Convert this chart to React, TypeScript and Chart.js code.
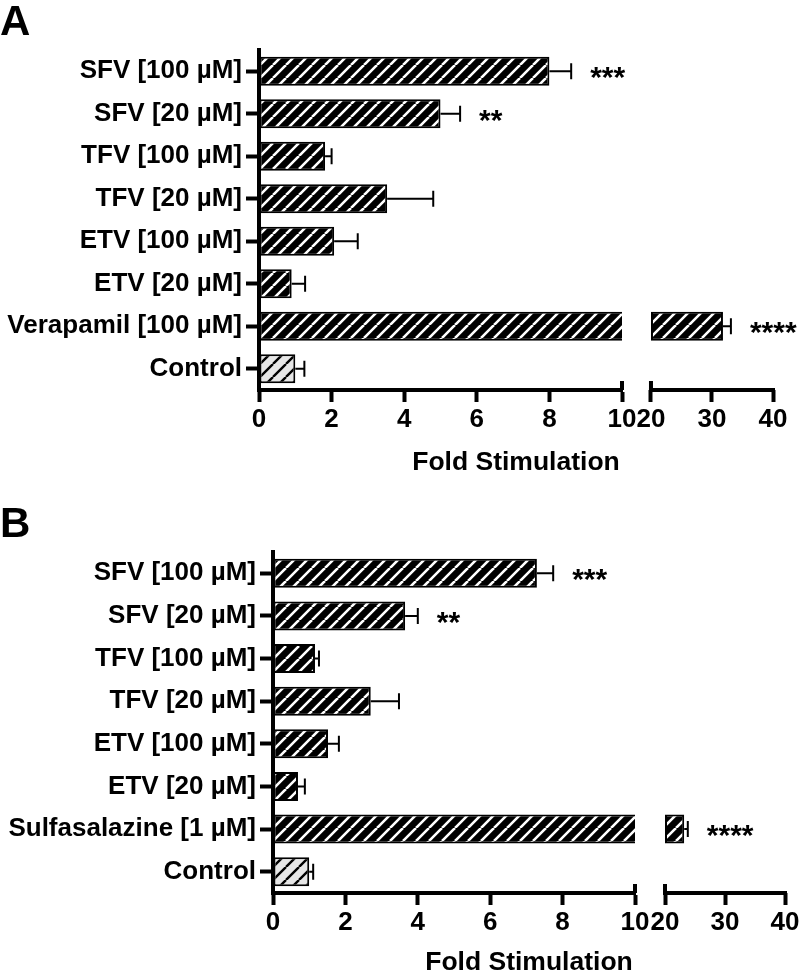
import React, { useEffect, useRef } from 'react';
import { Chart, registerables } from 'chart.js';

Chart.register(...registerables);

// ---------- data ----------
const categoriesA = ['SFV [100 µM]', 'SFV [20 µM]', 'TFV [100 µM]', 'TFV [20 µM]', 'ETV [100 µM]', 'ETV [20 µM]', 'Verapamil [100 µM]', 'Control'];
const valuesA = [8.0, 5.0, 1.82, 3.53, 2.07, 0.9, 31.8, 1.0];
const errorsA = [0.6, 0.54, 0.18, 1.27, 0.65, 0.37, 1.3, 0.25];
const sigA = ['***', '**', '', '', '', '', '****', ''];

const categoriesB = ['SFV [100 µM]', 'SFV [20 µM]', 'TFV [100 µM]', 'TFV [20 µM]', 'ETV [100 µM]', 'ETV [20 µM]', 'Sulfasalazine [1 µM]', 'Control'];
const valuesB = [7.29, 3.65, 1.16, 2.7, 1.52, 0.69, 23.2, 1.0];
const errorsB = [0.45, 0.35, 0.11, 0.78, 0.3, 0.19, 0.6, 0.11];
const sigB = ['***', '**', '', '', '', '', '****', ''];

const lowTicks = [0, 2, 4, 6, 8, 10];
const highTicks = [20, 30, 40];
const axisTitle = 'Fold Stimulation';

const FONT = "'Liberation Sans', Arial, Helvetica, sans-serif";

function makeHatch(bg: string, fg: string, lw: number, size = 13): CanvasPattern {
  const c = document.createElement('canvas');
  c.width = size;
  c.height = size;
  const g = c.getContext('2d')!;
  g.fillStyle = bg;
  g.fillRect(0, 0, size, size);
  g.strokeStyle = fg;
  g.lineWidth = lw;
  g.beginPath();
  for (const o of [-size, 0, size]) {
    g.moveTo(o, size);
    g.lineTo(o + size, 0);
  }
  g.stroke();
  return g.createPattern(c, 'repeat')!;
}

type PanelProps = {
  letter: string;
  categories: string[];
  values: number[];
  errors: number[];
  sig: string[];
  width: number;
  height: number;
  top: number;
  padTop: number;
  padRight: number;
  yWidth: number;
  axisHeight: number;
  lowWeight: number;
  highWeight: number;
  highMin: number;
  letterBaseline: number;
  titleOffset: number;
};

function Panel(p: PanelProps) {
  const ref = useRef<HTMLCanvasElement | null>(null);

  useEffect(() => {
    const canvas = ref.current!;
    const lowMax = lowTicks[lowTicks.length - 1];
    const highStart = highTicks[0];
    const dark = makeHatch('#000000', '#ffffff', 2.6);
    const light = makeHatch('#e6e6e6', '#000000', 2.4);
    const fills = p.categories.map((c) => (c === 'Control' ? light : dark));

    const overlay = {
      id: 'overlay',
      afterDraw(chart: any) {
        const ctx = chart.ctx as CanvasRenderingContext2D;
        const x1 = chart.scales.x1;
        const x2 = chart.scales.x2;
        const y = chart.scales.y;
        const { bottom, left, right } = chart.chartArea;
        ctx.save();
        ctx.strokeStyle = '#000';
        ctx.fillStyle = '#000';
        ctx.lineCap = 'butt';
        // second axis segment
        ctx.lineWidth = 4;
        const p20 = x2.getPixelForValue(highStart);
        const p10 = x1.getPixelForValue(lowMax);
        ctx.beginPath();
        ctx.moveTo(p20 - 2, bottom);
        ctx.lineTo(x2.right + 2, bottom);
        ctx.stroke();
        // break caps extending above axis
        ctx.beginPath();
        ctx.moveTo(p10, bottom - 9);
        ctx.lineTo(p10, bottom);
        ctx.moveTo(p20, bottom - 9);
        ctx.lineTo(p20, bottom);
        ctx.stroke();
        // error bars + significance
        ctx.lineWidth = 2;
        p.values.forEach((v, i) => {
          const e = p.errors[i];
          const sc = v > lowMax ? x2 : x1;
          const yc = y.getPixelForValue(i);
          const a = sc.getPixelForValue(v);
          const b = sc.getPixelForValue(v + e);
          ctx.beginPath();
          ctx.moveTo(a, yc);
          ctx.lineTo(b, yc);
          ctx.moveTo(b, yc - 8);
          ctx.lineTo(b, yc + 8);
          ctx.stroke();
          if (p.sig[i]) {
            ctx.font = `bold 30px ${FONT}`;
            ctx.textAlign = 'left';
            ctx.textBaseline = 'alphabetic';
            ctx.fillText(p.sig[i], b + 19, yc + 16);
          }
        });
        // axis title
        ctx.font = `bold 26.5px ${FONT}`;
        ctx.textAlign = 'center';
        ctx.textBaseline = 'middle';
        ctx.fillText(axisTitle, (left + right) / 2, bottom + p.titleOffset);
        // panel letter
        ctx.font = `bold 42px ${FONT}`;
        ctx.textAlign = 'left';
        ctx.textBaseline = 'alphabetic';
        ctx.fillText(p.letter, 0, p.letterBaseline);
        ctx.restore();
      },
    };

    const tickFont = { family: FONT, size: 26, weight: 'bold' as const };

    const chart = new Chart(canvas, {
      type: 'bar',
      data: {
        labels: p.categories,
        datasets: [
          {
            data: p.values,
            xAxisID: 'x1',
            yAxisID: 'y',
            backgroundColor: fills,
            borderColor: '#000',
            borderWidth: 2,
            borderSkipped: false,
            grouped: false,
            barPercentage: 0.68,
            categoryPercentage: 1,
          } as any,
          {
            data: p.values.map((v) => (v > lowMax ? [highStart, v] : null)),
            xAxisID: 'x2',
            yAxisID: 'y',
            backgroundColor: fills,
            borderColor: '#000',
            borderWidth: 2,
            borderSkipped: false,
            grouped: false,
            barPercentage: 0.68,
            categoryPercentage: 1,
          } as any,
        ],
      },
      options: {
        indexAxis: 'y',
        animation: false,
        responsive: false,
        maintainAspectRatio: false,
        devicePixelRatio: 1,
        layout: { padding: { left: 0, top: p.padTop, right: p.padRight, bottom: 0 } },
        plugins: { legend: { display: false }, tooltip: { enabled: false }, title: { display: false } },
        scales: {
          y: {
            type: 'category',
            position: 'left',
            offset: true,
            grid: { display: true, drawOnChartArea: false, drawTicks: true, tickLength: 13, tickWidth: 4, tickColor: '#000', offset: false },
            border: { display: true, color: '#000', width: 4 },
            ticks: { color: '#000', font: { family: FONT, size: 26, weight: 'bold' }, padding: 4, autoSkip: false },
            afterFit: (s: any) => {
              s.width = p.yWidth;
              s.paddingTop = 0;
              s.paddingBottom = 0;
            },
          },
          x1: {
            type: 'linear',
            axis: 'x',
            position: 'bottom',
            stack: 'xs',
            stackWeight: p.lowWeight,
            min: 0,
            max: lowMax,
            grid: { display: true, drawOnChartArea: false, drawTicks: true, tickLength: 12, tickWidth: 4, tickColor: '#000' },
            border: { display: true, color: '#000', width: 4 },
            ticks: { color: '#000', font: tickFont, padding: 2, autoSkip: false, maxRotation: 0 },
            afterBuildTicks: (s: any) => {
              s.ticks = lowTicks.map((v) => ({ value: v }));
            },
            afterFit: (s: any) => {
              s.height = p.axisHeight;
              s.paddingLeft = 0;
              s.paddingRight = 0;
            },
          },
          x2: {
            type: 'linear',
            axis: 'x',
            position: 'bottom',
            stack: 'xs',
            stackWeight: p.highWeight,
            min: p.highMin,
            max: highTicks[highTicks.length - 1],
            grid: { display: true, drawOnChartArea: false, drawTicks: true, tickLength: 12, tickWidth: 4, tickColor: '#000' },
            border: { display: false },
            ticks: { color: '#000', font: tickFont, padding: 2, autoSkip: false, maxRotation: 0 },
            afterBuildTicks: (s: any) => {
              s.ticks = highTicks.map((v) => ({ value: v }));
            },
            afterFit: (s: any) => {
              s.height = p.axisHeight;
              s.paddingLeft = 0;
              s.paddingRight = 0;
            },
          },
        } as any,
      },
      plugins: [overlay],
    });
    return () => chart.destroy();
  }, []);

  return (
    <canvas
      ref={ref}
      width={p.width}
      height={p.height}
      style={{ position: 'absolute', left: 0, top: p.top, width: p.width, height: p.height }}
    />
  );
}

export default function App() {
  return (
    <div style={{ position: 'absolute', left: 0, top: 0, width: 800, height: 975, background: '#fff' }}>
      <Panel
        letter="A"
        categories={categoriesA}
        values={valuesA}
        errors={errorsA}
        sig={sigA}
        width={800}
        height={490}
        top={0}
        padTop={50}
        padRight={27}
        yWidth={259}
        axisHeight={100}
        lowWeight={363}
        highWeight={151}
        highMin={15.25}
        letterBaseline={35}
        titleOffset={73}
      />
      <Panel
        letter="B"
        categories={categoriesB}
        values={valuesB}
        errors={errorsB}
        sig={sigB}
        width={800}
        height={485}
        top={490}
        padTop={62}
        padRight={15}
        yWidth={273}
        axisHeight={82}
        lowWeight={362}
        highWeight={150}
        highMin={15}
        letterBaseline={47}
        titleOffset={70}
      />
    </div>
  );
}
